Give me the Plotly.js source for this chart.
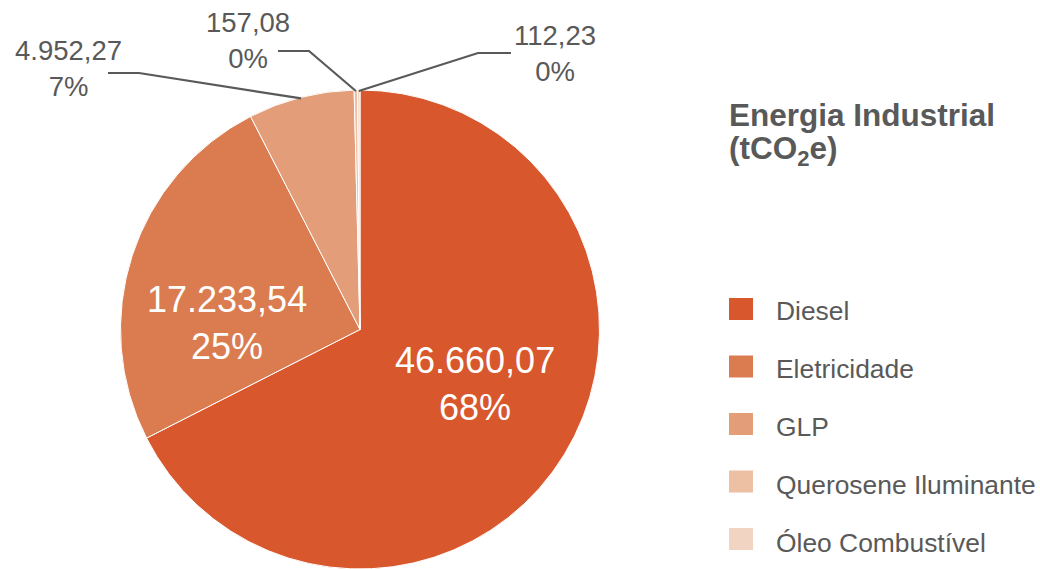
<!DOCTYPE html>
<html><head><meta charset="utf-8">
<script src="https://cdn.plot.ly/plotly-3.0.1.min.js"></script>
<style>html,body{margin:0;padding:0;background:#fff}</style>
</head><body><div id="chart" style="width:1040px;height:569px"></div>
<script>
// ---- data ----
const categories = ['Diesel', 'Eletricidade', 'GLP', 'Querosene Iluminante', 'Óleo Combustível'];
const emissions = [46660.07, 17233.54, 4952.27, 157.08, 112.23];
const colors = ['#D8572C', '#DA7C4F', '#E39D78', '#EDC0A4', '#F2D4C3'];
const legendTitle = ['Energia Industrial', '(tCO<sub>2</sub>e)'];

// ---- geometry of the page ----
const W = 1040, H = 569;
const cx = 360, cy = 329.5, R = 239.5;
const px = x => x / W;
const py = y => (H - y) / H;
const grey = '#595959';
const FONT = '"Liberation Sans", Arial, sans-serif';

function fmtNum(v) {
  const parts = v.toFixed(2).split('.');
  const int = parts[0].replace(/\B(?=(\d{3})+(?!\d))/g, '.');
  return int + ',' + parts[1];
}
const total = emissions.reduce((a, b) => a + b, 0);

const trace = {
  type: 'pie',
  labels: categories,
  values: emissions,
  sort: false,
  direction: 'clockwise',
  rotation: 0,
  domain: {x: [0, 720 / W], y: [0, 479 / H]},
  marker: {colors: colors, line: {color: '#ffffff', width: 1}},
  textinfo: 'none',
  textposition: 'none',
  showlegend: false,
  hoverinfo: 'label+value+percent'
};

const annotations = [];
const shapes = [];

// label layout (px) for each slice
const place = {
  0: {lx: 475, ly: 384, inside: true},
  1: {lx: 227, ly: 323, inside: true},
  2: {lx: 68, ly: 68, s: [108, 73], e: [139, 73]},
  3: {lx: 248, ly: 40, s: [278, 51], e: [309, 51]},
  4: {lx: 555, ly: 53, s: [511, 53], e: [478, 53]}
};
let cum = 0;
emissions.forEach((v, i) => {
  const mid = (cum + v / 2) / total * 2 * Math.PI;
  cum += v;
  const o = place[i];
  const txt = fmtNum(v) + '<br>' + Math.round(v / total * 100) + '%';
  if (o.inside) {
    annotations.push({
      xref: 'paper', yref: 'paper', x: px(o.lx), y: py(o.ly),
      xanchor: 'center', yanchor: 'middle', showarrow: false, align: 'center',
      text: txt, font: {size: 36, color: '#ffffff', family: FONT}
    });
    return;
  }
  const ax = cx + (R - 1) * Math.sin(mid);
  const ay = cy - (R - 1) * Math.cos(mid);
  annotations.push({
    xref: 'paper', yref: 'paper', x: px(o.lx), y: py(o.ly),
    xanchor: 'center', yanchor: 'middle', showarrow: false, align: 'center',
    text: txt, font: {size: 27.5, color: grey, family: FONT}
  });
  shapes.push({
    type: 'path', xref: 'paper', yref: 'paper',
    path: 'M' + px(o.s[0]) + ',' + py(o.s[1]) + ' L' + px(o.e[0]) + ',' + py(o.e[1]) + ' L' + px(ax) + ',' + py(ay),
    line: {color: grey, width: 2.2}
  });
});

// legend title
annotations.push({xref: 'paper', yref: 'paper', x: px(727), y: py(115), xanchor: 'left', yanchor: 'middle',
  showarrow: false, text: '<b>' + legendTitle[0] + '</b>', font: {size: 31.5, color: grey, family: FONT}});
annotations.push({xref: 'paper', yref: 'paper', x: px(727), y: py(150), xanchor: 'left', yanchor: 'middle',
  showarrow: false, text: '<b>' + legendTitle[1] + '</b>', font: {size: 31.5, color: grey, family: FONT}});

// legend entries
categories.forEach((c, i) => {
  const yc = 309 + i * 57.5;
  shapes.push({type: 'rect', xref: 'paper', yref: 'paper',
    x0: px(729), x1: px(753), y0: py(yc - 11), y1: py(yc + 11),
    fillcolor: colors[i], line: {width: 0}});
  annotations.push({xref: 'paper', yref: 'paper', x: px(774), y: py(311 + i * 58), xanchor: 'left', yanchor: 'middle',
    showarrow: false, text: c, font: {size: 26.4, color: grey, family: FONT}});
});

const layout = {
  width: W, height: H,
  margin: {l: 0, r: 0, t: 0, b: 0},
  paper_bgcolor: '#ffffff',
  plot_bgcolor: '#ffffff',
  separators: ',.',
  font: {family: FONT, color: grey},
  showlegend: false,
  annotations: annotations,
  shapes: shapes
};

Plotly.newPlot('chart', [trace], layout, {displayModeBar: false, staticPlot: true});
</script>
</body></html>
